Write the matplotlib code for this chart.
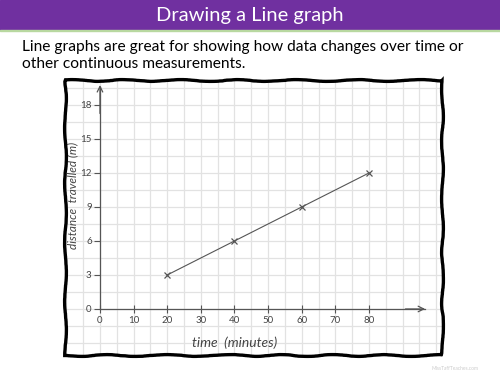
import numpy as np
import matplotlib
matplotlib.use('Agg')
import matplotlib.pyplot as plt
from matplotlib.patches import Rectangle

# data
time_min = [20, 40, 60, 80]
distance_m = [3, 6, 9, 12]
x_ticks = [0, 10, 20, 30, 40, 50, 60, 70, 80]
y_ticks = [0, 3, 6, 9, 12, 15, 18]

title = 'Drawing a Line graph'
intro = ('Line graphs are great for showing how data changes over time or\n'
         'other continuous measurements.')

plt.rcParams['font.family'] = ['Lato', 'DejaVu Sans']

fig = plt.figure(figsize=(5, 3.75), dpi=100)
W, H = 500, 375

# purple header
fig.patches.append(Rectangle((0, 1 - 30 / H), 1, 30 / H, transform=fig.transFigure,
                             color='#7030A0', zorder=0))
fig.patches.append(Rectangle((0, 1 - 31 / H), 1, 1.2 / H, transform=fig.transFigure,
                             color='#b8d8a0', zorder=0))
fig.text(0.5, 1 - 15 / H, title, color='white', fontsize=14.5, ha='center', va='center')
fig.text(22 / W, 1 - 40 / H, intro, color='black', fontsize=11.2, ha='left', va='top',
         linespacing=1.3)

# graph paper
ax = fig.add_axes([65 / W, 1 - 355 / H, (442 - 65) / W, (355 - 80) / H])
ax.set_xlim(-10.4, 101.7)
ax.set_ylim(-4.06, 20.2)

for gx in np.arange(-10, 105, 5):
    ax.axvline(gx, color='#e2e2e2', lw=0.9, zorder=0)
for gy in np.arange(-3, 21, 1.5):
    ax.axhline(gy, color='#e2e2e2', lw=0.9, zorder=0)

axis_col = '#555555'
for side in ['top', 'right']:
    ax.spines[side].set_visible(False)
ax.spines['left'].set_position(('data', 0))
ax.spines['bottom'].set_position(('data', 0))
ax.spines['left'].set_bounds(0, 19.6)
ax.spines['bottom'].set_bounds(0, 96.5)
ax.spines['left'].set_color(axis_col)
ax.spines['bottom'].set_color(axis_col)
ax.spines['left'].set_linewidth(0.9)
ax.spines['bottom'].set_linewidth(0.9)
ax.annotate('', xy=(97.5, 0), xytext=(90, 0),
            arrowprops=dict(arrowstyle='->', color=axis_col, lw=0.9, mutation_scale=10))
ax.annotate('', xy=(0, 20.0), xytext=(0, 17),
            arrowprops=dict(arrowstyle='->', color=axis_col, lw=0.9, mutation_scale=10))

ax.set_xticks(x_ticks)
ax.set_yticks(y_ticks)
ax.tick_params(axis='x', direction='inout', length=6, width=0.8, color=axis_col,
               labelsize=7, labelcolor='#444444', pad=2)
ax.tick_params(axis='y', direction='out', length=4, width=0.8, color=axis_col,
               labelsize=7, labelcolor='#444444', pad=2)

ax.plot(time_min, distance_m, color='#555555', lw=0.8, marker='x', ms=5,
        mew=0.9, zorder=3)

ax.text((235 - 65) / 377, (355 - 343) / 275, 'time  (minutes)', transform=ax.transAxes,
        ha='center', va='center', fontsize=10, color='#444444', style='italic')
ax.text((73 - 65) / 377, (355 - 195) / 275, 'distance  travelled (m)',
        transform=ax.transAxes, ha='center', va='center', rotation=90,
        fontsize=8.5, color='#444444', style='italic')

border = Rectangle((0, 0), 1, 1, transform=ax.transAxes, fill=False,
                   ec='black', lw=2.4, clip_on=False, zorder=5)
border.set_sketch_params(scale=0.9, length=70, randomness=3)
ax.add_patch(border)

fig.text(455 / W, 1 - 368 / H, 'MissTaffTeaches.com', fontsize=3.5, color='#cccccc',
         ha='center', va='center')

fig.savefig('out.png', dpi=100)
